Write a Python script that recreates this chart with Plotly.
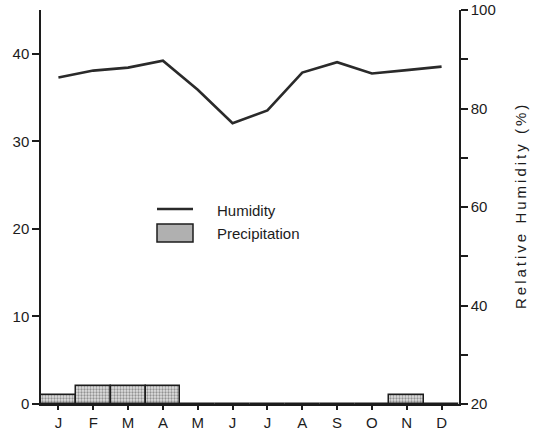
import plotly.graph_objects as go

# Monthly climate record
months = ["J", "F", "M", "A", "M", "J", "J", "A", "S", "O", "N", "D"]
precipitation = [1, 2, 2, 2, 0, 0, 0, 0, 0, 0, 1, 0]
humidity = [86.3, 87.7, 88.3, 89.7, 83.8, 77.0, 79.6, 87.3, 89.4, 87.1, 87.8, 88.5]

left_ticks = [0, 10, 20, 30, 40]
right_ticks = [20, 40, 60, 80, 100]

x_pos = list(range(len(months)))

INK = "#1c1c1c"
FONT = "Liberation Sans, Arial, sans-serif"

fig = go.Figure()

fig.add_trace(go.Bar(
    x=x_pos, y=precipitation, width=1.0, name="Precipitation",
    marker=dict(
        color="#cfcfcf",
        line=dict(color=INK, width=1.5),
        pattern=dict(shape=".", fgcolor="#444444", bgcolor="#e0e0e0",
                     size=3, solidity=0.45),
    ),
    showlegend=False, yaxis="y",
))

fig.add_trace(go.Scatter(
    x=x_pos, y=humidity, mode="lines", name="Humidity",
    line=dict(color="#2a2a2a", width=2.6),
    showlegend=False, yaxis="y2",
))

axis_common = dict(
    showline=True, linecolor=INK, linewidth=1.5,
    ticks="outside", tickcolor=INK, tickwidth=1.5,
    showgrid=False, zeroline=False, automargin=False,
    tickfont=dict(family=FONT, size=15, color=INK),
)

fig.update_layout(
    width=537, height=431,
    margin=dict(l=41, r=78, t=10, b=27),
    paper_bgcolor="white", plot_bgcolor="white",
    bargap=0,
    xaxis=dict(
        range=[-0.5, 11.5], tickvals=x_pos, ticktext=months,
        ticklen=4, **axis_common,
    ),
    yaxis=dict(
        range=[0, 45], tickvals=left_ticks, ticklen=7,
        **axis_common,
    ),
    yaxis2=dict(
        range=[20, 100], tickvals=right_ticks, ticklen=7,
        overlaying="y", side="right",
        minor=dict(tickvals=[30, 50, 70, 90], ticks="outside", ticklen=7,
                   tickcolor=INK, tickwidth=1.5),
        **axis_common,
    ),
    showlegend=False,
)


def px_x(px):
    return (px - 41) / 418


def px_y(py):
    return (404 - py) / 394


# Legend key drawn in the open area of the plot
fig.add_shape(type="line", xref="paper", yref="paper",
              x0=px_x(157), x1=px_x(193), y0=px_y(209), y1=px_y(209),
              line=dict(color="#2a2a2a", width=2.6))
fig.add_shape(type="rect", xref="paper", yref="paper",
              x0=px_x(157), x1=px_x(193), y0=px_y(242), y1=px_y(224),
              fillcolor="#b0b0b0", line=dict(color=INK, width=1.5))
fig.add_annotation(xref="paper", yref="paper", x=px_x(215), y=px_y(210),
                   text="Humidity", showarrow=False, xanchor="left",
                   yanchor="middle", font=dict(family=FONT, size=15, color=INK))
fig.add_annotation(xref="paper", yref="paper", x=px_x(215), y=px_y(233),
                   text="Precipitation", showarrow=False, xanchor="left",
                   yanchor="middle", font=dict(family=FONT, size=15, color=INK))

# Right-axis title, letter-spaced
title = "\u2009".join("Relative Humidity (%)")
fig.add_annotation(xref="paper", yref="paper", x=px_x(520), y=0.5,
                   text=title, textangle=-90, showarrow=False,
                   xanchor="center", yanchor="middle",
                   font=dict(family=FONT, size=15, color=INK))

fig.write_html("out.html")
